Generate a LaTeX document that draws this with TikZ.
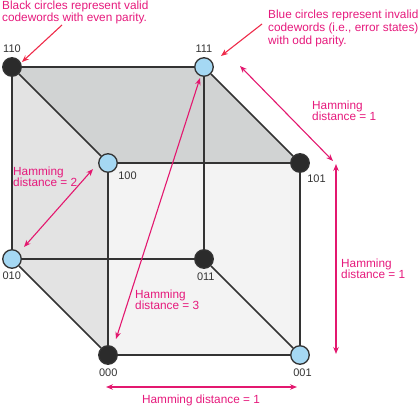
\documentclass[tikz,border=0pt]{standalone}
\usepackage{fontspec}
\setmainfont{Liberation Sans}
\usetikzlibrary{arrows.meta,backgrounds}
\definecolor{pinktxt}{HTML}{E6197C}
\definecolor{pinkarr}{HTML}{E3186F}
\definecolor{redarr}{HTML}{EE2B4A}
\definecolor{edgec}{HTML}{333333}
\definecolor{blackdot}{HTML}{2B2B2B}
\definecolor{bluedot}{HTML}{A5D8F3}
\definecolor{topface}{HTML}{D1D3D3}
\definecolor{leftface}{HTML}{E3E3E3}
\definecolor{frontface}{HTML}{F3F3F3}
\definecolor{labelc}{HTML}{333333}
\begin{document}
\begin{tikzpicture}[x=1pt,y=-1pt,
  vtx/.style={circle,draw=edgec,line width=1.3pt,minimum size=18.5pt,inner sep=0pt},
  even/.style={vtx,fill=blackdot},
  odd/.style={vtx,fill=bluedot},
  cubeedge/.style={draw=edgec,line width=1.5pt},
  vlabel/.style={font=\fontsize{11}{13}\selectfont,text=labelc,anchor=base,inner sep=0pt},
  noteL/.style={font={\fontsize{11.8}{12}\selectfont\lineskiplimit=-100pt},text=pinktxt,align=left,anchor=north west,inner sep=0pt},
  noteR/.style={font={\fontsize{11.8}{13}\selectfont\lineskiplimit=-100pt},text=pinktxt,align=left,anchor=north west,inner sep=0pt},
  hdlabel/.style={font={\fontsize{11.8}{10.8}\selectfont\lineskiplimit=-100pt},text=pinktxt,align=left,anchor=north west,inner sep=0pt},
  hdarrow/.style={draw=pinkarr,line width=1.1pt,{Stealth[length=7pt,width=5.5pt]}-{Stealth[length=7pt,width=5.5pt]}},
  pointer/.style={draw=redarr,line width=1.1pt,-{Stealth[length=7pt,width=5.5pt]}}
]
\useasboundingbox (0,0) rectangle (420,406);

% vertices
\node[even] (n110) at (12,67) {};
\node[odd]  (n111) at (204,67) {};
\node[odd]  (n100) at (108,163) {};
\node[even] (n101) at (300,163) {};
\node[odd]  (n010) at (12,259) {};
\node[even] (n011) at (204,259) {};
\node[even] (n000) at (108,355) {};
\node[odd]  (n001) at (300,355) {};

% faces
\begin{pgfonlayer}{background}
\fill[topface] (n110.center) -- (n111.center) -- (n101.center) -- (n100.center) -- cycle;
\fill[leftface] (n110.center) -- (n100.center) -- (n000.center) -- (n010.center) -- cycle;
\fill[frontface] (n100.center) -- (n101.center) -- (n001.center) -- (n000.center) -- cycle;
\end{pgfonlayer}

% edges
\draw[cubeedge] (n110) -- (n111);
\draw[cubeedge] (n111) -- (n011);
\draw[cubeedge] (n011) -- (n010);
\draw[cubeedge] (n010) -- (n110);
\draw[cubeedge] (n100) -- (n101);
\draw[cubeedge] (n101) -- (n001);
\draw[cubeedge] (n001) -- (n000);
\draw[cubeedge] (n000) -- (n100);
\draw[cubeedge] (n110) -- (n100);
\draw[cubeedge] (n111) -- (n101);
\draw[cubeedge] (n011) -- (n001);
\draw[cubeedge] (n010) -- (n000);

% vertex labels
\node[vlabel] (l110) at (12,52.5) {110};
\node[vlabel] (l111) at (204,52.5) {111};
\node[vlabel] (l100) at (127.5,179.3) {100};
\node[vlabel] (l101) at (316.5,182.3) {101};
\node[vlabel] (l010) at (11.7,279.3) {010};
\node[vlabel] (l011) at (205.8,280) {011};
\node[vlabel] (l000) at (108.3,376.7) {000};
\node[vlabel] (l001) at (302.5,376.7) {001};

% notes
\node[noteL] (noteblack) at (2,1) {Black circles represent valid\\codewords with even parity.};
\node[noteR] (noteblue) at (268,9.5) {Blue circles represent invalid\\codewords (i.e., error states)\\with odd parity.};
\coordinate (pt1a) at (62,25);
\coordinate (pt1b) at (22,62);
\coordinate (pt2a) at (262,24);
\coordinate (pt2b) at (221,56);
\draw[pointer] (pt1a) -- (pt1b);
\draw[pointer] (pt2a) -- (pt2b);

% hamming distances
\coordinate (h1a) at (240,66);
\coordinate (h1b) at (333,161);
\coordinate (h1c) at (336,164);
\coordinate (h1d) at (336,354);
\coordinate (h1e) at (106,387);
\coordinate (h1f) at (297,387);
\coordinate (h2a) at (93,169);
\coordinate (h2b) at (24,247);
\coordinate (h3a) at (200,78);
\coordinate (h3b) at (116,339);
\draw[hdarrow] (h1a) -- (h1b);
\draw[hdarrow] (h1c) -- (h1d);
\draw[hdarrow] (h1e) -- (h1f);
\draw[hdarrow] (h2a) -- (h2b);
\draw[hdarrow] (h3a) -- (h3b);

\node[hdlabel] (hdtr) at (312,100.5) {Hamming\\distance = 1};
\node[hdlabel] (hdr) at (341,259) {Hamming\\distance = 1};
\node[hdlabel] (hd2) at (13,166.5) {Hamming\\distance = 2};
\node[hdlabel] (hd3) at (135,290) {Hamming\\distance = 3};
\node[hdlabel,anchor=north] (hdb) at (201,395) {Hamming distance = 1};
\end{tikzpicture}
\end{document}
